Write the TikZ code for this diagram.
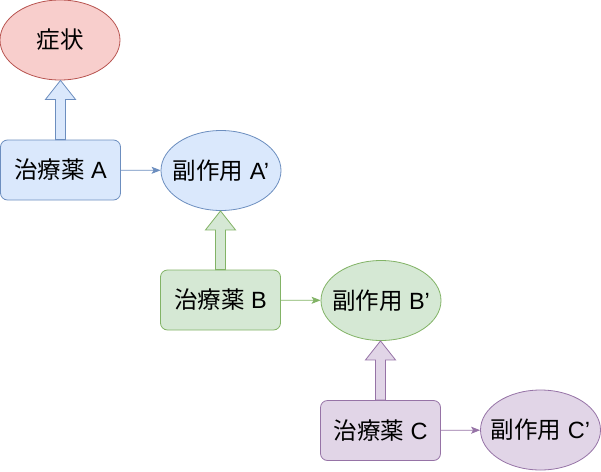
\documentclass[tikz,border=0pt]{standalone}
\usepackage{fontspec}
\setmainfont{Liberation Sans}
\newfontfamily\jp{Noto Sans CJK JP}
\usetikzlibrary{calc,arrows.meta,shapes.geometric}
\definecolor{rf}{HTML}{F8CECC}\definecolor{rs}{HTML}{B85450}
\definecolor{bf}{HTML}{DAE8FC}\definecolor{bs}{HTML}{6C8EBF}
\definecolor{gf}{HTML}{D5E8D4}\definecolor{gs}{HTML}{82B366}
\definecolor{pf}{HTML}{E1D5E7}\definecolor{ps}{HTML}{9673A6}
\newcommand{\zw}[1]{\makebox[0pt]{#1}}
\tikzset{
  x=1pt,y=1pt,
  txt/.style={font=\fontsize{23.5}{28}\selectfont, inner sep=0pt},
  box/.style={txt, rounded corners=7pt, minimum width=120pt, minimum height=60pt, line width=0.8pt},
  oval/.style={txt, ellipse, minimum width=120pt, minimum height=80pt, line width=0.8pt},
  thin/.style={line width=0.8pt, -{Stealth[length=9pt,width=7pt,inset=2pt]}},
  barr/.style={line width=0.8pt, line join=miter},
}
\begin{document}
\begin{tikzpicture}
\useasboundingbox (0,0) rectangle (601,-471);
\node[oval, draw=rs, fill=rf] (sym) at (60,-40) {\zw{\jp 症状}};
\node[box, draw=bs, fill=bf] (ra) at (60.5,-170) {{\jp 治療薬} A};
\node[oval, draw=bs, fill=bf] (ea) at (221,-170.5) {\zw{{\jp 副作用} A’}};
\node[box, draw=gs, fill=gf] (rb) at (220.5,-300) {{\jp 治療薬} B};
\node[oval, draw=gs, fill=gf] (eb) at (381,-300.5) {\zw{{\jp 副作用} B’}};
\node[box, draw=ps, fill=pf] (rc) at (380.5,-430.5) {{\jp 治療薬} C};
\node[oval, draw=ps, fill=pf] (ec) at (540.5,-430) {\zw{{\jp 副作用} C’}};
\draw[thin, bs] (ra) -- (ea);
\draw[thin, gs] (rb) -- (eb);
\draw[thin, ps] (rc) -- (ec);
\draw[barr, draw=bs, fill=bf] let \p1=(ra.north), \p2=(sym.south) in
  (\x1-5,\y1) -- (\x1-5,\y2-19) -- (\x1-15,\y2-19) -- (\x1,\y2) -- (\x1+15,\y2-19) -- (\x1+5,\y2-19) -- (\x1+5,\y1) -- cycle;
\draw[barr, draw=gs, fill=gf] let \p1=(rb.north), \p2=(ea.south) in
  (\x1-5,\y1) -- (\x1-5,\y2-19) -- (\x1-15,\y2-19) -- (\x1,\y2) -- (\x1+15,\y2-19) -- (\x1+5,\y2-19) -- (\x1+5,\y1) -- cycle;
\draw[barr, draw=ps, fill=pf] let \p1=(rc.north), \p2=(eb.south) in
  (\x1-5,\y1) -- (\x1-5,\y2-19) -- (\x1-15,\y2-19) -- (\x1,\y2) -- (\x1+15,\y2-19) -- (\x1+5,\y2-19) -- (\x1+5,\y1) -- cycle;
\end{tikzpicture}
\end{document}
